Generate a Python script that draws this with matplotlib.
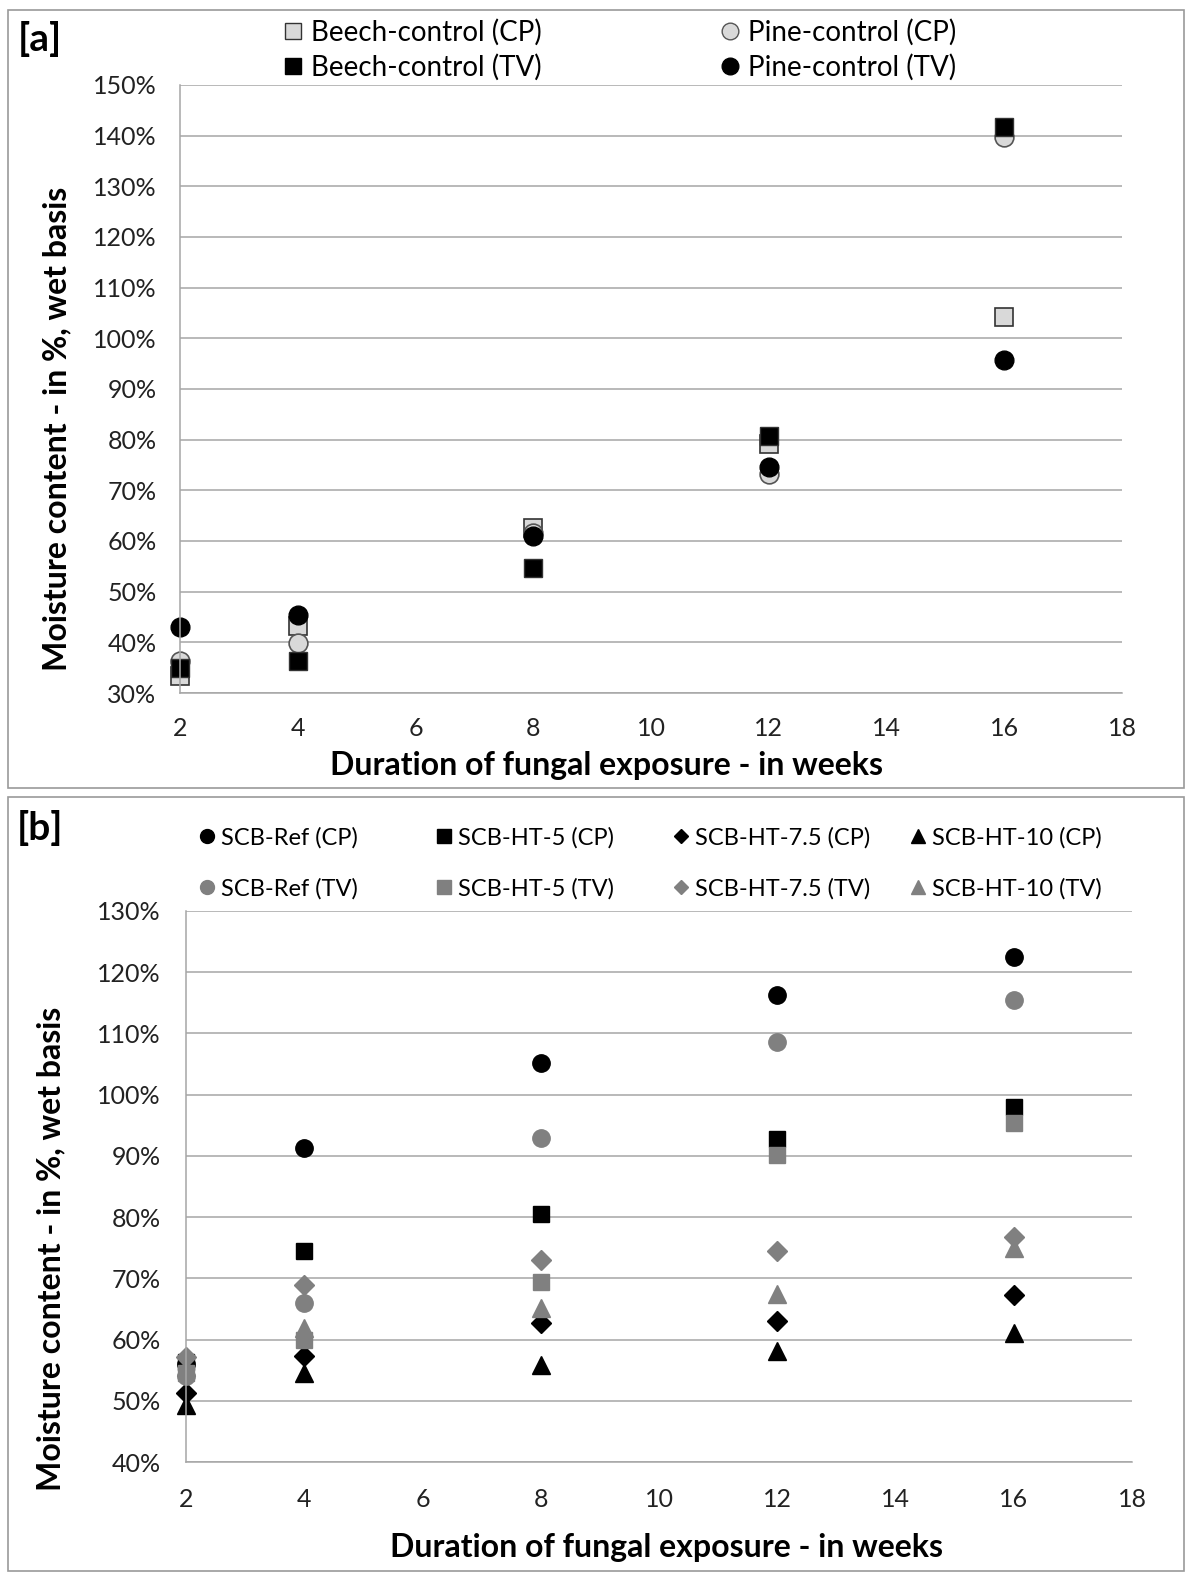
import matplotlib
matplotlib.use("Agg")
import matplotlib.pyplot as plt
from matplotlib.patches import Rectangle
from matplotlib.lines import Line2D

plt.rcParams['font.family'] = ['Lato', 'DejaVu Sans']

# ---- panel [a] : controls ----
weeks = [2, 4, 8, 12, 16]
beech_cp = [33.4, 43.2, 62.6, 79.1, 104.2]
beech_tv = [34.9, 36.3, 54.7, 80.7, 141.7]
pine_cp = [36.4, 39.9, 61.5, 73.3, 139.7]
pine_tv = [43.0, 45.4, 61.0, 74.6, 95.8]

# ---- panel [b] : SCB ----
ref_cp = [56.0, 91.3, 105.1, 116.3, 122.5]
ht5_cp = [56.4, 74.4, 80.5, 92.8, 98.0]
ht75_cp = [51.3, 57.3, 62.7, 63.1, 67.3]
ht10_cp = [49.3, 54.6, 55.9, 58.2, 61.0]
ref_tv = [54.0, 66.0, 92.9, 108.6, 115.4]
ht5_tv = [54.5, 60.0, 69.4, 90.1, 95.4]
ht75_tv = [57.2, 68.9, 73.0, 74.4, 76.8]
ht10_tv = [55.5, 61.9, 65.2, 67.4, 75.0]

W, H = 1186, 1573
fig = plt.figure(figsize=(W / 100, H / 100), dpi=100)

def fx(px):
    return px / W

def fy(py):
    return 1 - py / H

GRID = '#a6a6a6'
GREY = '#808080'
LIGHT = '#d9d9d9'

# panel frames
for top, bot in [(10, 788), (797, 1571)]:
    fig.patches.append(Rectangle((fx(8), fy(bot)), fx(1176), (bot - top) / H,
                                 transform=fig.transFigure, fill=False,
                                 edgecolor='#9a9a9a', lw=1.2))

def style_axes(ax, ylim, yticks, xpad, ypad):
    ax.set_xlim(2, 18)
    ax.set_xticks(range(2, 19, 2))
    ax.set_ylim(*ylim)
    ax.set_yticks(yticks)
    ax.set_yticklabels([f"{v}%" for v in yticks])
    ax.grid(axis='y', color=GRID, lw=1.1)
    ax.set_axisbelow(True)
    for s in ['top', 'right']:
        ax.spines[s].set_visible(False)
    for s in ['left', 'bottom']:
        ax.spines[s].set_color(GRID)
        ax.spines[s].set_linewidth(1.1)
    ax.tick_params(axis='both', length=0, labelsize=18, colors='#222222')
    ax.tick_params(axis='x', pad=xpad)
    ax.tick_params(axis='y', pad=ypad)

# ---------- panel a ----------
axa = fig.add_axes([fx(180), fy(693), fx(1122 - 180), (693 - 85) / H])
ms_a = 13.5
axa.plot(weeks, beech_cp, 's', ms=ms_a, mfc=LIGHT, mec='#333333', mew=1.2, ls='none', clip_on=False)
axa.plot(weeks, pine_cp, 'o', ms=ms_a, mfc=LIGHT, mec='#555555', mew=1.2, ls='none', clip_on=False)
axa.plot(weeks, beech_tv, 's', ms=ms_a, mfc='black', mec='#333333', mew=1.0, ls='none', clip_on=False)
axa.plot(weeks, pine_tv, 'o', ms=ms_a, mfc='black', mec='black', mew=1.0, ls='none', clip_on=False)
style_axes(axa, (30, 150), list(range(30, 151, 10)), 17.5, 17)

fig.text(fx(40), fy(39), '[a]', fontsize=28, fontweight='bold', ha='center', va='center')
fig.text(fx(57), fy(429), 'Moisture content - in %, wet basis', rotation=90,
         fontsize=23, fontweight='bold', ha='center', va='center')
fig.text(fx(607), fy(765), 'Duration of fungal exposure - in weeks',
         fontsize=23, fontweight='bold', ha='center', va='center')

leg_a = [
    (278, [('s', LIGHT, '#333333', 'Beech-control (CP)'), ('s', 'black', 'black', 'Beech-control (TV)')]),
    (715, [('o', LIGHT, '#555555', 'Pine-control (CP)'), ('o', 'black', 'black', 'Pine-control (TV)')]),
]
for x0, items in leg_a:
    handles = [Line2D([], [], marker=m, ls='none', ms=12, mfc=fc, mec=ec, mew=1.0)
               for m, fc, ec, _ in items]
    fig.legend(handles, [t for *_, t in items], loc='upper left',
               bbox_to_anchor=(fx(x0), fy(13)), frameon=False, fontsize=20,
               handlelength=0.7, handletextpad=0.3, labelspacing=0.3,
               borderpad=0.2, borderaxespad=0)

# ---------- panel b ----------
axb = fig.add_axes([fx(186), fy(1462), fx(1132 - 186), (1462 - 911) / H])
ms_b = 12.5
series_b = [
    (ref_cp, 'o', 'black', ms_b), (ht5_cp, 's', 'black', ms_b - 0.5),
    (ht75_cp, 'D', 'black', ms_b - 2.5), (ht10_cp, '^', 'black', ms_b),
    (ref_tv, 'o', GREY, ms_b), (ht5_tv, 's', GREY, ms_b - 0.5),
    (ht75_tv, 'D', GREY, ms_b - 2.5), (ht10_tv, '^', GREY, ms_b),
]
for vals, m, c, ms in series_b:
    axb.plot(weeks, vals, m, ms=ms, color=c, mec=c, ls='none', clip_on=False)
style_axes(axb, (40, 130), list(range(40, 131, 10)), 19, 18)

fig.text(fx(40), fy(828), '[b]', fontsize=28, fontweight='bold', ha='center', va='center')
fig.text(fx(51), fy(1249), 'Moisture content - in %, wet basis', rotation=90,
         fontsize=23, fontweight='bold', ha='center', va='center')
fig.text(fx(667), fy(1547), 'Duration of fungal exposure - in weeks',
         fontsize=23, fontweight='bold', ha='center', va='center')

leg_b_names = ['SCB-Ref', 'SCB-HT-5', 'SCB-HT-7.5', 'SCB-HT-10']
leg_b_marks = ['o', 's', 'D', '^']
leg_b_x = [195, 432, 669, 906]
for name, m, x0 in zip(leg_b_names, leg_b_marks, leg_b_x):
    handles = [Line2D([], [], marker=m, ls='none', ms=10 if m != 'D' else 7.5,
                      color=c, mec=c) for c in ['black', GREY]]
    fig.legend(handles, [f'{name} (CP)', f'{name} (TV)'], loc='upper left',
               bbox_to_anchor=(fx(x0), fy(822)), frameon=False, fontsize=17,
               handlelength=0.6, handletextpad=0.3, labelspacing=1.25,
               borderpad=0.2, borderaxespad=0)

fig.savefig('out.png', dpi=100)
